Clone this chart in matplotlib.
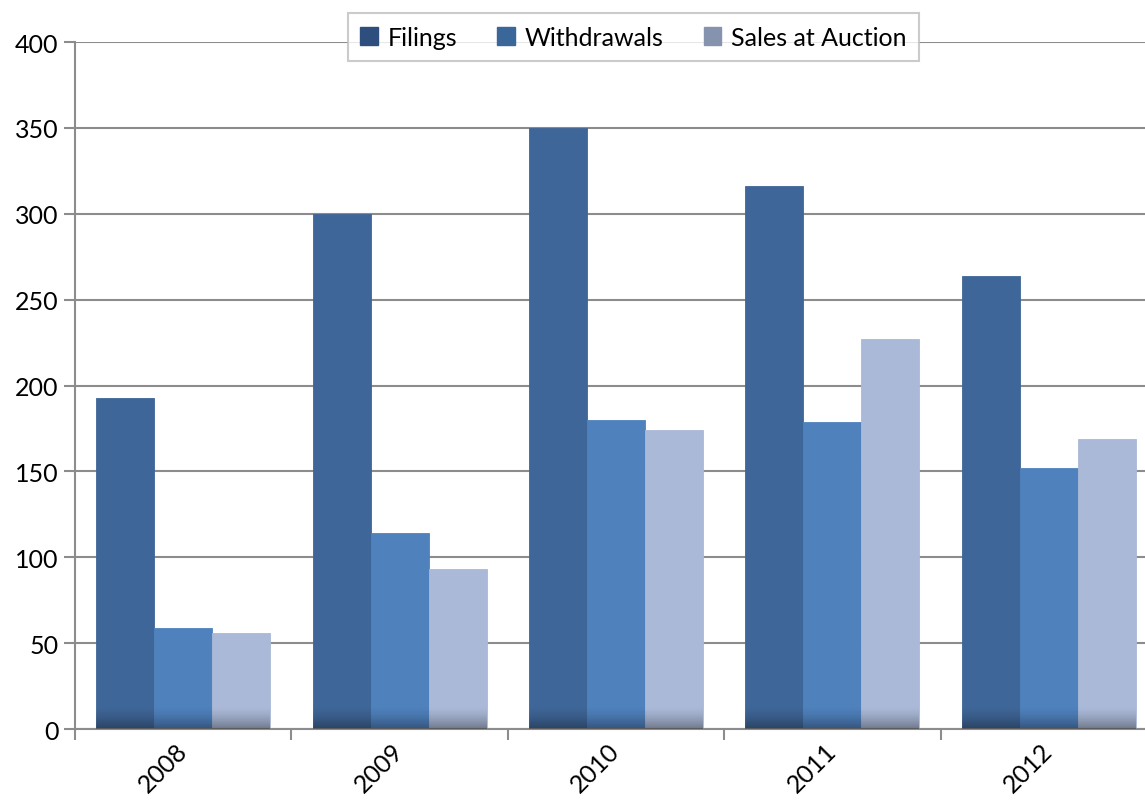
import numpy as np
import matplotlib
matplotlib.use("Agg")
import matplotlib.pyplot as plt
from matplotlib.patches import Patch

years = ["2008", "2009", "2010", "2011", "2012"]
filings = [193, 300, 350, 316, 264]
withdrawals = [59, 114, 180, 179, 152]
sales_at_auction = [56, 93, 174, 227, 169]

series = [
    ("Filings", filings, "#3F6698", "#2E4F7D"),
    ("Withdrawals", withdrawals, "#4F81BD", "#3A6699"),
    ("Sales at Auction", sales_at_auction, "#AAB9D7", "#8593AF"),
]

plt.rcParams["font.family"] = ["Lato", "DejaVu Sans"]

fig = plt.figure(figsize=(11.45, 8.04), dpi=100)
ax = fig.add_axes([0.0655, 0.092, 0.945, 0.8545])

x = np.arange(len(years))
bw = 0.268
grad = np.linspace(0, 1, 64).reshape(-1, 1)

for i, (name, vals, color, _) in enumerate(series):
    bars = ax.bar(x + (i - 1) * bw, vals, width=bw, color=color,
                  edgecolor=color, linewidth=0.6, zorder=2)
    # darker shading near the base of each bar
    for b in bars:
        h = min(13, b.get_height())
        shade = np.zeros((64, 1, 4))
        shade[..., 3] = 0.35 * (1 - grad) ** 1.5
        ax.imshow(shade, extent=(b.get_x(), b.get_x() + b.get_width(), 0, h),
                  origin="lower", aspect="auto", zorder=3, interpolation="bilinear")

ax.set_xlim(-0.5, len(years) - 0.5)
ax.set_ylim(0, 400)
ax.set_yticks(np.arange(0, 401, 50))
ax.yaxis.grid(True, color="#8C8C8C", linewidth=1.5, zorder=0)
ax.set_axisbelow(True)

ax.set_xticks(x)
ax.set_xticklabels(years, rotation=45, ha="right", va="center",
                   rotation_mode="anchor")
ax.set_xticks(np.arange(-0.5, len(years), 1.0), minor=True)
ax.tick_params(axis="x", which="major", length=0, pad=13, labelsize=18)
ax.tick_params(axis="x", which="minor", length=8, width=1.5, color="#8C8C8C",
               direction="out")
ax.tick_params(axis="y", length=8, width=1.5, color="#8C8C8C", labelsize=18,
               pad=4)

for side in ["top", "right"]:
    ax.spines[side].set_visible(False)
for side in ["left", "bottom"]:
    ax.spines[side].set_color("#8C8C8C")
    ax.spines[side].set_linewidth(1.5)

handles = [Patch(facecolor=lc, edgecolor=lc) for _, _, _, lc in series]
leg = ax.legend(handles, [s[0] for s in series], loc="center",
                bbox_to_anchor=(0.516, 1.007), ncol=3, fontsize=18,
                frameon=True, fancybox=False, handlelength=0.7,
                handleheight=0.7, handletextpad=0.4, columnspacing=1.6,
                borderpad=0.5)
leg.get_frame().set_edgecolor("#BFBFBF")
leg.get_frame().set_linewidth(1.5)
leg.set_zorder(5)

fig.savefig("out.png", dpi=100)
